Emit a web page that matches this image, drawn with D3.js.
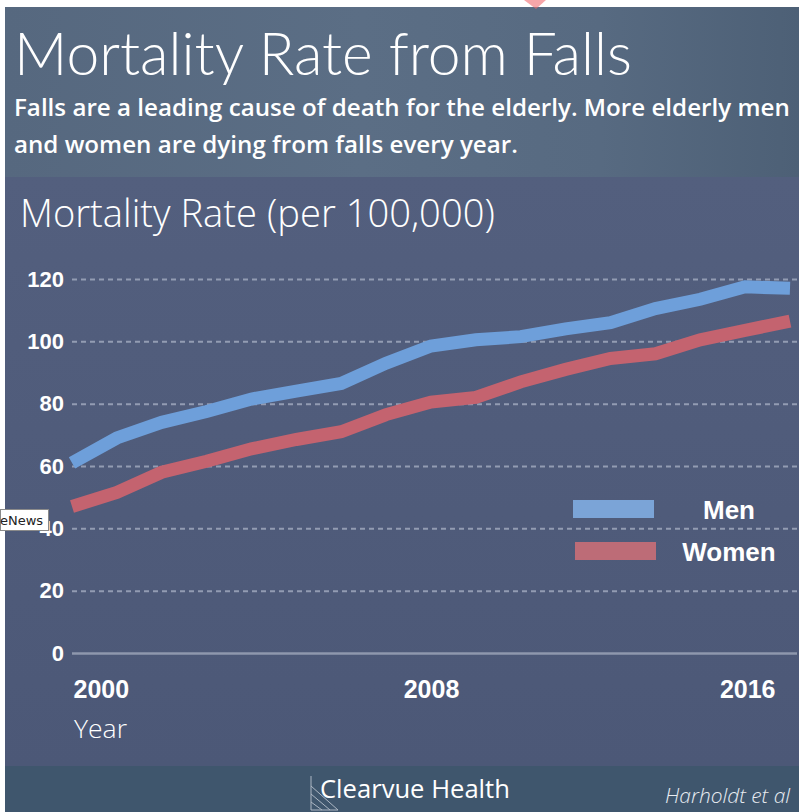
<!DOCTYPE html>
<html>
<head>
<meta charset="utf-8">
<script src="https://cdn.jsdelivr.net/npm/d3@7"></script>
<style>
body { margin: 0; background: #fff; }
</style>
</head>
<body>
<div id="chart"></div>
<script>
//Data
var years = [2000, 2001, 2002, 2003, 2004, 2005, 2006, 2007, 2008,
             2009, 2010, 2011, 2012, 2013, 2014, 2015, 2016];
var men   = [61, 69, 74, 77.5, 81.5, 84, 86.5, 93, 98.5,
             100.5, 101.5, 104, 106, 110.5, 113.5, 117.5, 117];
var women = [47, 51.5, 58, 61.5, 65.5, 68.5, 71, 76.5, 80.5,
             82, 87, 91, 94.5, 96, 100.5, 103.5, 106.5];
var yTicks = [0, 20, 40, 60, 80, 100, 120];
var xTicks = [2000, 2008, 2016];
var seriesNames = ["Men", "Women"];

var width = 799, height = 812;
var colors = { Men: "#6e9fda", Women: "#c4636f" };
var swatch = { Men: "#7ba4d7", Women: "#bd6c77" };

var svg = d3.select("#chart").append("svg")
    .attr("width", width)
    .attr("height", height)
    .style("display", "block");

// shrink/grow a text's font size so it spans the wanted width
function fit(sel, w) {
  var node = sel.node();
  var size = parseFloat(sel.style("font-size"));
  var len = node.getComputedTextLength();
  sel.style("font-size", (size * w / len) + "px");
  return size * w / len;
}

var defs = svg.append("defs");
var hg = defs.append("linearGradient").attr("id", "hdr").attr("x1", 0).attr("x2", 1);
hg.append("stop").attr("offset", "0").attr("stop-color", "#56687f");
hg.append("stop").attr("offset", "0.45").attr("stop-color", "#5b6e85");
hg.append("stop").attr("offset", "0.75").attr("stop-color", "#576a81");
hg.append("stop").attr("offset", "1").attr("stop-color", "#4d6076");

var pg = defs.append("linearGradient").attr("id", "pnl").attr("x1", 0).attr("x2", 0).attr("y1", 0).attr("y2", 1);
pg.append("stop").attr("offset", "0").attr("stop-color", "#535f7e");
pg.append("stop").attr("offset", "1").attr("stop-color", "#4c5877");

//Backgrounds
svg.append("rect").attr("x", 5).attr("y", 7).attr("width", 794).attr("height", 171).attr("fill", "url(#hdr)");
svg.append("rect").attr("x", 5).attr("y", 177).attr("width", 794).attr("height", 589).attr("fill", "url(#pnl)");
svg.append("rect").attr("x", 5).attr("y", 766).attr("width", 794).attr("height", 46).attr("fill", "#3f566d");

// faint red mark at the top edge
svg.append("path").attr("d", "M524,0 L546,0 L536,9 Z").attr("fill", "#f06a70").attr("opacity", 0.6);

//Titles
var title = svg.append("text").attr("x", 14).attr("y", 75)
    .style("font", "300 58px Lato, 'Open Sans', sans-serif").attr("fill", "#fff")
    .text("Mortality Rate from Falls");
fit(title, 618);

var sub1 = svg.append("text").attr("x", 14).attr("y", 116)
    .style("font", "600 20px 'Open Sans', Lato, sans-serif").attr("fill", "#fff")
    .text("Falls are a leading cause of death for the elderly. More elderly men");
var subSize = fit(sub1, 776);
svg.append("text").attr("x", 14).attr("y", 153)
    .style("font", "600 " + subSize + "px 'Open Sans', Lato, sans-serif").attr("fill", "#fff")
    .text("and women are dying from falls every year.");

var ytitle = svg.append("text").attr("x", 20).attr("y", 227)
    .style("font", "300 35px 'Open Sans', Lato, sans-serif").attr("fill", "#fff")
    .text("Mortality Rate (per 100,000)");
fit(ytitle, 475);

//Scales
var x = d3.scaleLinear().domain([2000, 2016]).range([72, 790]);
var y = d3.scaleLinear().domain([0, 120]).range([653, 279]);

//Grid
var grid = svg.append("g").attr("transform", "translate(72,0)")
    .call(d3.axisLeft(y).tickValues(yTicks).tickSize(-725).tickFormat(""));
grid.select(".domain").remove();
grid.selectAll(".tick line")
    .attr("stroke", function(d) { return d === 0 ? "#8e97ad" : "#aab2c6"; })
    .attr("stroke-width", function(d) { return d === 0 ? 2.5 : 2; })
    .attr("stroke-dasharray", function(d) { return d === 0 ? null : "5,4"; })
    .attr("opacity", function(d) { return d === 0 ? 1 : 0.75; });

//Y axis labels
var yAxis = svg.append("g").attr("transform", "translate(64,0)")
    .call(d3.axisLeft(y).tickValues(yTicks).tickSize(0).tickPadding(0));
yAxis.select(".domain").remove();
yAxis.selectAll("text")
    .attr("fill", "#fff")
    .style("font", "bold 22px 'Liberation Sans', Arial, sans-serif");

//X axis labels
var xAxis = svg.append("g").attr("transform", "translate(0,680)")
    .call(d3.axisBottom(x).tickValues(xTicks).tickSize(0).tickPadding(0).tickFormat(d3.format("d")));
xAxis.select(".domain").remove();
xAxis.selectAll("text")
    .attr("fill", "#fff")
    .attr("dy", "0.71em")
    .style("font", "bold 25px 'Liberation Sans', Arial, sans-serif")
    .attr("text-anchor", function(d, i) { return i === 0 ? "start" : (i === xTicks.length - 1 ? "end" : "middle"); })
    .attr("x", function(d, i) { return i === 0 ? 1 : (i === xTicks.length - 1 ? -15 : 0); });

var xtitle = svg.append("text").attr("x", 74).attr("y", 738)
    .style("font", "300 25px 'Open Sans', Lato, sans-serif").attr("fill", "#fff")
    .text("Year");
fit(xtitle, 53);

//Lines
var line = d3.line()
    .x(function(d) { return x(d.year); })
    .y(function(d) { return y(d.value); });

var series = [
  { name: "Men", values: years.map(function(yr, i) { return { year: yr, value: men[i] }; }) },
  { name: "Women", values: years.map(function(yr, i) { return { year: yr, value: women[i] }; }) }
];

svg.selectAll(".series")
    .data(series).enter()
    .append("path")
    .attr("class", "series")
    .attr("d", function(d) { return line(d.values); })
    .attr("fill", "none")
    .attr("stroke", function(d) { return colors[d.name]; })
    .attr("stroke-width", 13)
    .attr("stroke-linejoin", "miter");

//Legend
var legend = svg.selectAll(".legend")
    .data(seriesNames).enter()
    .append("g").attr("class", "legend")
    .attr("transform", function(d, i) { return "translate(0," + (i * 42) + ")"; });

legend.append("rect")
    .attr("x", function(d, i) { return 573 + i * 2; })
    .attr("y", 500)
    .attr("width", 81).attr("height", 18)
    .attr("fill", function(d) { return swatch[d]; });
legend.append("text")
    .attr("x", 729).attr("y", 519)
    .attr("text-anchor", "middle")
    .attr("fill", "#fff")
    .style("font", "bold 26px 'Liberation Sans', Arial, sans-serif")
    .text(function(d) { return d; });

//Footer
var logo = svg.append("g").attr("stroke", "#c9d0da").attr("stroke-width", 1).attr("fill", "none").attr("opacity", 0.8);
logo.append("path").attr("d", "M311,776 L311,810");
logo.append("path").attr("d", "M311,786 L338,810");
logo.append("path").attr("d", "M311,794 L330,810");
logo.append("path").attr("d", "M311,802 L322,810");
logo.append("path").attr("d", "M311,810 L338,810");

var brand = svg.append("text").attr("x", 320).attr("y", 798)
    .style("font", "400 26px 'Open Sans', Lato, sans-serif").attr("fill", "#fff")
    .text("Clearvue Health");
fit(brand, 190);
var cite = svg.append("text").attr("x", 790).attr("y", 803)
    .attr("text-anchor", "end")
    .style("font", "italic 300 18px 'Open Sans', Lato, sans-serif").attr("fill", "#e8ecf2")
    .text("Harholdt et al");
fit(cite, 125);

//Overlay label
svg.append("rect").attr("x", 0.5).attr("y", 509.5).attr("width", 48).attr("height", 21)
    .attr("fill", "#fff").attr("stroke", "#8a8a8a");
svg.append("text").attr("x", 0).attr("y", 525)
    .style("font", "13px 'DejaVu Sans', sans-serif").attr("fill", "#222")
    .text("eNews");
</script>
</body>
</html>
